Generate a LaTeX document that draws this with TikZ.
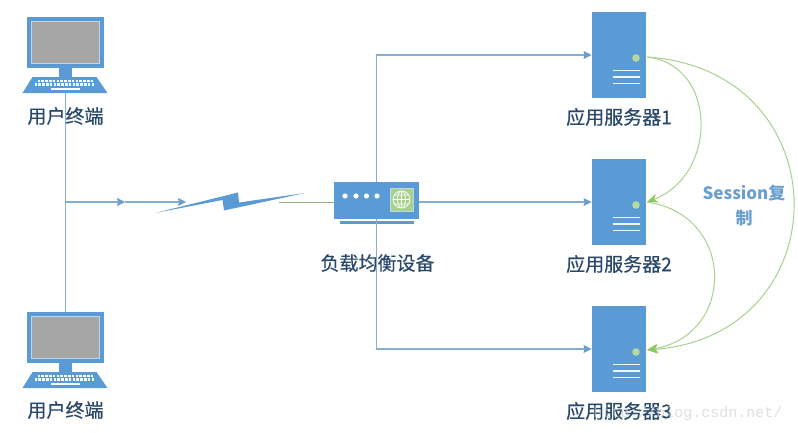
\documentclass[tikz,border=0pt]{standalone}
\usepackage{fontspec}
\setmainfont{Noto Sans CJK SC}
\newfontfamily\capfont[FakeBold=0.5]{Noto Sans CJK SC}
\newfontfamily\markfont{Liberation Mono}
\usetikzlibrary{arrows.meta, positioning}

\begin{document}
\begin{tikzpicture}[x=1pt, y=1pt, on grid, node distance=147pt,
    blue/.style={fill=bluefill, draw=none},
    link/.style={draw=linkblue, line width=1.1pt},
    tip/.style={-{Stealth[length=8pt, width=8pt, inset=1pt, color=tipblue]}},
    copyline/.style={draw=copygreen, line width=1pt, -{Stealth[length=11pt, width=9pt, color=tipgreen]}},
    caption/.style={text=textblue, font=\capfont\fontsize{19}{23}\selectfont, inner sep=0pt},
    server/.style={blue, minimum width=54.5pt, minimum height=86pt, inner sep=0pt},
    terminal/.pic={
        \node[blue, minimum width=77pt, minimum height=51pt, inner sep=0pt] (-body) at (0,0) {};
        \draw[fill=screengrey, draw=rimblue, line width=1pt] (-34,-21) rectangle (34,21);
        \fill[bluefill] (-7,-25) rectangle (6,-35);
        \fill[bluefill] (-33,-34.5) -- (31,-34.5) -- (42,-50.5) -- (-43,-50.5) -- cycle;
        \draw[white, line width=2.2pt, dash pattern=on 2.6pt off 1.2pt] (-28,-38.5) -- (27,-38.5);
        \draw[white, line width=2.2pt, dash pattern=on 2.6pt off 1.2pt] (-31,-42) -- (29,-42);
        \draw[white, line width=2pt] (-14.5,-46.5) -- (14,-46.5);
        \coordinate (-keys) at (0,-50.5);
    },
    rack/.pic={
        \fill[dotgreen] (17,-3) circle (3.8);
        \foreach \y in {-15.5,-22,-28.5}
            \draw[white!90!bluefill, line width=1.6pt] (-6.5,\y) -- (20.5,\y);
    }]
    \definecolor{bluefill}{HTML}{5B9BD5}
    \definecolor{linkblue}{HTML}{86AED3}
    \definecolor{tipblue}{HTML}{6D9DCB}
    \definecolor{rimblue}{HTML}{BDD7EE}
    \definecolor{screengrey}{HTML}{A6A6A6}
    \definecolor{copygreen}{HTML}{A9D18E}
    \definecolor{tipgreen}{HTML}{8CC95A}
    \definecolor{dotgreen}{HTML}{B5D7A0}
    \definecolor{textblue}{HTML}{2B4A6B}
    \definecolor{sessionblue}{HTML}{6A9FCF}
    \useasboundingbox (0,0) rectangle (798,-432);

    \pic (t1) at (65.5,-42.5) {terminal};
    \pic (t2) at (65.5,-337.5) {terminal};
    \node[caption] (t1label) at (65.5,-116) {用户终端};
    \node[caption] (t2label) at (65.5,-410) {用户终端};

    \node[server] (s1) at (619,-55) {};
    \node[server] (s2) [below=of s1] {};
    \node[server] (s3) [below=of s2] {};
    \pic at (s1) {rack};
    \pic at (s2) {rack};
    \pic at (s3) {rack};
    \node[caption] (s1label) [below=62pt of s1] {应用服务器1};
    \node[caption] (s2label) [below=62pt of s2] {应用服务器2};
    \node[caption] (s3label) [below=62pt of s3] {应用服务器3};

    \node[blue, minimum width=85pt, minimum height=37pt, inner sep=0pt] (lb) at (376.5,-200.5) {};
    \fill[bluefill] (340,-221) rectangle (414,-223.5);
    \foreach \x in {345,356,366.5,377}
        \fill[white] (\x,-196) circle (2.6);
    \draw[fill=copygreen, draw=rimblue, line width=0.8pt] (390,-188) rectangle (413,-211);
    \draw[white, line width=0.7pt] (401.5,-199.5) circle (8.5) (401.5,-199.5) ellipse (4 and 8.5)
        (401.5,-191) -- (401.5,-208) (393,-199.5) -- (410,-199.5)
        (394.5,-195) -- (408.5,-195) (394.5,-204) -- (408.5,-204);
    \node[caption] (lblabel) at (377.5,-263) {负载均衡设备};

    \coordinate (hub) at (65.5,-202);
    \coordinate (mid) at (125,-202);
    \coordinate (linkin) at (186,-202);
    \coordinate (linkout) at (279,-202);
    \path[link]
        (t1-keys) edge (t2-body)
        (hub) edge [tip] (mid)
        (mid) edge [tip] (linkin)
        (lb.north) edge [tip, to path={|- (\tikztotarget)}] (s1.west)
        (lb.south) edge [tip, to path={|- (\tikztotarget)}] (s3.west)
        (lb.east |- s2) edge [tip] (s2.west);
    \draw[copygreen!85!black, line width=1pt] (linkout) -- (lb.west |- linkout);

    \fill[bluefill] (155,-213) -- (238,-192.5) -- (239,-202.5) -- (305,-193)
        -- (224,-210.5) -- (222.5,-200) -- cycle;

    \coordinate (s1out) at (647,-57);
    \coordinate (s2in) at (647,-202);
    \coordinate (s3in) at (647,-350);
    \draw[copyline] (s1out) .. controls (718,-65) and (718,-175) .. (s2in);
    \draw[copyline] (s1out) .. controls (842,-70) and (842,-335) .. (s3in);
    \draw[copyline] (s2in) .. controls (736,-215) and (736,-335) .. (s3in);

    \node[text=sessionblue, font=\fontsize{17}{25}\selectfont\bfseries, align=center, inner sep=0pt] (session) at (744,-205.5) {Session复\\制};

    \node[text=black!18, opacity=0.7, inner sep=0pt] (mark) at (688,-414)
        {\markfont\fontsize{15}{18}\selectfont http://blog.csdn.net/};
\end{tikzpicture}
\end{document}
